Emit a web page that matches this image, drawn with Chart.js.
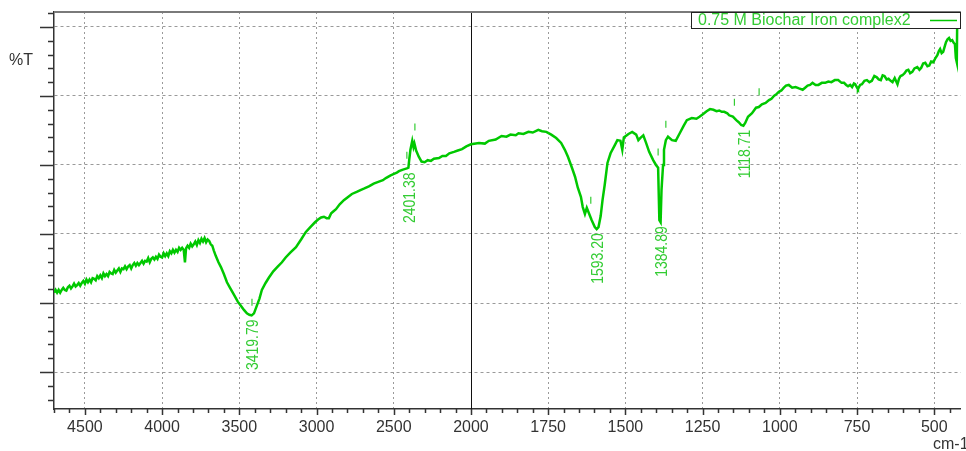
<!DOCTYPE html>
<html lang="en">
<head>
<meta charset="UTF-8">
<title>FTIR - 0.75 M Biochar Iron complex2</title>
<script src="https://cdn.jsdelivr.net/npm/chart.js"></script>
<style>
  html, body { margin: 0; padding: 0; background: #fff; }
</style>
</head>
<body>
<canvas id="ftir" width="966" height="451"></canvas>
<script>
// spectrum (cm-1, %T)
const wavenumbers = [
  4700, 4690, 4680, 4670, 4660, 4650, 4640, 4630, 4620, 4610, 4600, 4590, 4580, 4570, 4560, 4550,
  4540, 4530, 4520, 4510, 4500, 4490, 4480, 4470, 4460, 4450, 4440, 4430, 4420, 4410, 4400, 4390,
  4380, 4370, 4360, 4350, 4340, 4330, 4320, 4310, 4300, 4290, 4280, 4270, 4260, 4250, 4240, 4230,
  4220, 4210, 4200, 4190, 4180, 4170, 4160, 4150, 4140, 4130, 4120, 4110, 4100, 4090, 4080, 4070,
  4060, 4050, 4040, 4030, 4020, 4010, 4000, 3990, 3980, 3970, 3960, 3950, 3940, 3930, 3920, 3910,
  3900, 3890, 3880, 3870, 3860, 3852, 3845, 3835, 3825, 3815, 3805, 3795, 3785, 3775, 3765, 3755,
  3745, 3735, 3725, 3715, 3705, 3695, 3685, 3675, 3665, 3652, 3635,
  3619, 3600, 3580, 3560, 3535, 3510, 3490, 3470, 3451, 3435, 3420, 3405, 3390, 3370, 3354, 3330,
  3308, 3280, 3250, 3224, 3200, 3170, 3133, 3100, 3069, 3040, 3010, 2990, 2970, 2952, 2935, 2920,
  2905, 2890, 2874, 2850, 2823, 2800, 2771, 2740, 2712, 2690, 2661, 2630, 2596, 2570, 2551, 2520,
  2499, 2480, 2466, 2445, 2430, 2415, 2405, 2400, 2392, 2380, 2372, 2366, 2355, 2338, 2320, 2300,
  2280, 2259, 2240, 2207, 2185, 2162, 2140, 2110, 2085, 2058, 2030, 2000,
  1974, 1955, 1942, 1920, 1901, 1885, 1872, 1855, 1846, 1830, 1814, 1800, 1782, 1770, 1756, 1740,
  1724, 1708, 1696, 1686, 1673, 1663, 1654, 1644, 1638, 1631, 1625, 1618, 1609, 1599, 1593, 1587,
  1580, 1574, 1567, 1558, 1548, 1535, 1526, 1516, 1510, 1505, 1490, 1478, 1465, 1458, 1452, 1442,
  1433, 1423, 1410, 1401, 1394, 1390, 1386, 1383, 1378, 1375, 1369, 1362, 1349, 1337, 1324, 1311,
  1301, 1285, 1270, 1260, 1248, 1237, 1226, 1215, 1205, 1196, 1188, 1180, 1170, 1164, 1152, 1141,
  1133, 1125, 1118, 1112, 1103, 1090, 1077, 1068, 1058, 1046, 1035, 1027, 1019, 1010, 1003, 995,
  987, 980, 971, 960, 949, 938, 926, 918, 910, 902, 894, 884, 875, 864, 853, 843,
  833, 822, 811, 800, 792, 785, 779, 772, 766, 760, 756, 750, 747, 740, 734, 726,
  718, 710, 702, 694, 686, 680, 673, 667, 661, 654, 648, 641, 635, 628, 619, 614,
  609, 603, 596, 590, 584, 578, 571, 564, 555, 548, 542, 536, 529, 522, 516, 510,
  503, 496, 490, 485, 481, 476, 471, 466, 462, 457, 452, 447, 442, 437, 433, 430,
  427, 425
]
const transmittance = [
  21.5, 21.9, 21.5, 21.9, 21.5, 21.9, 22.2, 21.9, 21.8, 22.3, 22.5, 22.1, 22.4, 22.8, 22.4, 22.6,
  22.9, 22.5, 22.9, 23.2, 22.8, 23.4, 23.0, 23.4, 23.0, 23.6, 23.5, 23.3, 23.9, 23.6, 24.0, 23.6,
  24.3, 23.9, 24.2, 23.9, 24.5, 24.3, 24.2, 24.8, 24.4, 24.7, 25.0, 24.5, 25.0, 24.9, 25.3, 24.9,
  25.3, 25.5, 25.0, 25.5, 25.8, 25.4, 25.8, 25.5, 25.8, 26.1, 25.7, 26.1, 26.0, 26.5, 25.9, 26.4,
  26.6, 26.3, 26.7, 26.4, 27.0, 26.7, 26.6, 27.2, 26.8, 27.2, 26.8, 27.5, 27.2, 27.7, 27.3, 27.7,
  27.4, 28.0, 27.7, 28.0, 27.7, 25.9, 27.9, 28.3, 28.0, 28.6, 28.2, 28.5, 28.9, 28.4, 29.1, 28.7,
  29.3, 28.9, 29.4, 28.8, 29.2, 29.0, 28.5, 28.3, 27.6, 26.8, 25.9,
  25.2, 24.2, 23.0, 22.2, 21.2, 20.2, 19.6, 19.0, 18.5, 18.3, 18.2, 18.5, 19.4, 20.6, 21.9, 22.9,
  23.7, 24.6, 25.3, 25.9, 26.6, 27.3, 28.1, 29.2, 30.3, 31.0, 31.7, 32.1, 32.4, 32.5, 32.3, 32.3,
  33.0, 33.3, 33.6, 34.3, 34.9, 35.3, 35.8, 36.1, 36.4, 36.6, 36.9, 37.3, 37.6, 37.8, 38.1, 38.5,
  38.7, 38.9, 39.1, 39.3, 39.4, 39.5, 39.6, 40.7, 42.2, 43.5, 42.6, 43.1, 42.1, 41.2, 40.5, 40.4,
  40.7, 40.6, 40.9, 41.0, 41.3, 41.3, 41.7, 41.9, 42.1, 42.3, 42.7, 43.0,
  43.2, 43.1, 43.5, 43.7, 44.2, 44.1, 44.4, 44.3, 44.6, 44.5, 44.8, 44.7, 45.1, 44.9, 44.8, 44.4,
  43.9, 43.2, 42.2, 41.2, 39.6, 38.3, 36.7, 35.4, 33.9, 32.9, 33.8, 33.0, 32.0, 31.0, 30.7, 31.0,
  32.6, 34.9, 37.1, 40.3, 41.7, 42.8, 43.6, 43.5, 42.2, 44.0, 44.5, 44.8, 44.4, 43.6, 43.9, 44.3,
  43.2, 41.9, 40.7, 40.0, 39.6, 32.0, 31.7, 36.4, 40.0, 42.2, 43.6, 44.1, 43.6, 43.5, 44.6, 45.7,
  46.5, 46.8, 46.7, 47.0, 47.4, 47.8, 48.1, 48.0, 47.8, 47.9, 47.7, 47.7, 47.5, 47.2, 47.0, 46.5,
  46.2, 45.8, 45.7, 46.1, 47.0, 47.5, 48.3, 48.4, 48.8, 49.0, 49.4, 49.6, 50.0, 50.3, 50.6, 50.8,
  51.2, 51.5, 51.6, 51.2, 51.3, 51.1, 50.9, 51.2, 51.5, 51.6, 51.9, 51.6, 51.6, 51.9, 51.9, 52.1,
  52.0, 52.3, 52.3, 51.9, 51.9, 51.6, 51.4, 51.6, 51.3, 51.8, 51.7, 51.2, 51.0, 51.6, 51.7, 52.2,
  52.3, 52.0, 52.2, 52.9, 52.7, 52.4, 52.3, 53.0, 52.9, 52.4, 52.5, 52.2, 52.0, 52.6, 51.7, 52.5,
  52.9, 53.0, 53.3, 53.7, 53.8, 53.3, 53.5, 54.0, 54.2, 53.8, 54.1, 54.7, 54.8, 54.3, 54.4, 55.0,
  54.9, 55.5, 55.9, 56.5, 56.8, 56.2, 56.4, 57.2, 57.8, 58.2, 58.4, 58.0, 58.1, 57.7, 57.5, 55.5,
  54.9, 63.5
]

// labelled peaks and the small marks above them
const peakWavenumbers = [3419.79, 2401.38, 1593.20, 1384.89, 1118.71]
const peakTransmittance = [18.2, 39.5, 30.7, 31.7, 45.7]
const markerWavenumbers = [3418, 2415, 2363, 1612, 1394, 1369, 1147, 1067]
const markerTransmittance = [20.1, 41.4, 45.5, 34.9, 41.9, 45.9, 49.1, 50.6]

const xTickLabels = [4500, 4000, 3500, 3000, 2500, 2000, 1750, 1500, 1250, 1000, 750, 500]
const seriesName = '0.75 M Biochar Iron complex2'

const GREEN = '#00c800'
const LABEL_GREEN = '#33cc33'
const FONT = '"Liberation Sans", Arial, sans-serif'

// below 2000 cm-1 the axis is stretched 2x, like the instrument software does
const toAxis = (wn) => (wn >= 2000 ? wn : 2000 - 2 * (2000 - wn))
const fromAxis = (u) => (u >= 2000 ? u : 2000 - (2000 - u) / 2)
const isMajorX = (u) => xTickLabels.includes(Math.round(fromAxis(u)))

const xTicks = []
for (let u = 4700; u >= -1100; u -= 100) xTicks.push(u)
const yTicks = []
for (let v = 6; v <= 62; v += 2) yTicks.push(v)

const ftirDecor = {
  id: 'ftirDecor',
  beforeDatasetsDraw(chart) {
    const { ctx, chartArea: a, scales } = chart
    const x2000 = Math.round(scales.x.getPixelForValue(toAxis(2000))) + 0.5
    ctx.save()
    ctx.strokeStyle = '#111'
    ctx.lineWidth = 1
    ctx.beginPath()
    ctx.moveTo(x2000, a.top)
    ctx.lineTo(x2000, a.bottom)
    ctx.stroke()
    ctx.restore()
  },
  afterDraw(chart) {
    const { ctx, chartArea: a, scales } = chart
    const x = scales.x
    const y = scales.y
    ctx.save()

    // top frame
    ctx.strokeStyle = '#7a7a7a'
    ctx.lineWidth = 2
    ctx.beginPath()
    ctx.moveTo(a.left, a.top)
    ctx.lineTo(a.right, a.top)
    ctx.stroke()

    // tick marks
    ctx.strokeStyle = '#333'
    ctx.lineWidth = 1.5
    ctx.beginPath()
    xTicks.forEach((u) => {
      const px = Math.round(x.getPixelForValue(u)) + 0.5
      const len = isMajorX(u) ? 6 : 4
      ctx.moveTo(px, a.bottom)
      ctx.lineTo(px, a.bottom + len)
    })
    yTicks.forEach((v) => {
      const py = Math.round(y.getPixelForValue(v)) + 0.5
      const len = v % 10 === 0 ? 14 : 6
      ctx.moveTo(a.left - len, py)
      ctx.lineTo(a.left, py)
    })
    ctx.stroke()

    // peak labels
    ctx.fillStyle = LABEL_GREEN
    ctx.font = '14px ' + FONT
    ctx.textAlign = 'right'
    ctx.textBaseline = 'middle'
    peakWavenumbers.forEach((wn, i) => {
      const px = x.getPixelForValue(toAxis(wn)) + 2
      const py = y.getPixelForValue(peakTransmittance[i]) + 4
      ctx.save()
      ctx.translate(px, py)
      ctx.rotate(-Math.PI / 2)
      ctx.scale(1, 1.15)
      ctx.fillText(wn.toFixed(2), 0, 0)
      ctx.restore()
    })

    // legend box
    ctx.fillStyle = '#fff'
    ctx.fillRect(691, a.top, 269, 16)
    ctx.strokeStyle = '#222'
    ctx.lineWidth = 1
    ctx.strokeRect(691.5, a.top + 0.5, 269, 16)
    ctx.fillStyle = LABEL_GREEN
    ctx.font = '16px ' + FONT
    ctx.textAlign = 'left'
    ctx.fillText(seriesName, 698, a.top + 9)
    ctx.strokeStyle = GREEN
    ctx.lineWidth = 1.5
    ctx.beginPath()
    ctx.moveTo(930, a.top + 8.5)
    ctx.lineTo(957, a.top + 8.5)
    ctx.stroke()

    // axis names
    ctx.fillStyle = '#333'
    ctx.fillText('%T', 9, 61)
    ctx.fillText('cm-1', 933, 445)
    ctx.restore()
  }
}

new Chart(document.getElementById('ftir').getContext('2d'), {
  type: 'line',
  data: {
    datasets: [
      {
        label: seriesName,
        data: wavenumbers.map((wn, i) => ({ x: toAxis(wn), y: transmittance[i] })),
        borderColor: GREEN,
        borderWidth: 2.5,
        pointRadius: 0,
        tension: 0
      },
      {
        label: 'peak marks',
        data: markerWavenumbers.map((wn, i) => ({ x: toAxis(wn), y: markerTransmittance[i] })),
        showLine: false,
        pointStyle: 'line',
        rotation: 90,
        pointRadius: 3.5,
        borderColor: LABEL_GREEN,
        borderWidth: 1.2
      }
    ]
  },
  options: {
    responsive: false,
    animation: false,
    layout: { padding: { top: 12, left: 0, right: 0, bottom: 0 } },
    plugins: { legend: { display: false }, tooltip: { enabled: false } },
    scales: {
      x: {
        type: 'linear',
        reverse: true,
        min: toAxis(414),
        max: 4700,
        afterBuildTicks: (scale) => { scale.ticks = xTicks.map((v) => ({ value: v })) },
        afterFit: (scale) => { scale.height = 42 },
        ticks: {
          autoSkip: false,
          maxRotation: 0,
          padding: 9,
          color: '#333',
          font: { family: FONT, size: 16 },
          callback: (u) => {
            const wn = Math.round(fromAxis(u))
            return xTickLabels.includes(wn) ? String(wn) : ''
          }
        },
        grid: {
          drawTicks: false,
          color: (c) => (c.tick && isMajorX(c.tick.value) && Math.round(fromAxis(c.tick.value)) !== 2000 ? '#9a9a9a' : 'rgba(0,0,0,0)')
        },
        border: { color: '#333', width: 1.5, dash: [2, 3] }
      },
      y: {
        min: 4.64,
        max: 62.17,
        afterBuildTicks: (scale) => { scale.ticks = yTicks.map((v) => ({ value: v })) },
        afterFit: (scale) => { scale.width = 54 },
        ticks: { display: false },
        grid: {
          drawTicks: false,
          color: (c) => (c.tick && c.tick.value % 10 === 0 ? '#9a9a9a' : 'rgba(0,0,0,0)')
        },
        border: { color: '#333', width: 1.5, dash: [3, 3] }
      }
    }
  },
  plugins: [ftirDecor]
})
</script>
</body>
</html>
